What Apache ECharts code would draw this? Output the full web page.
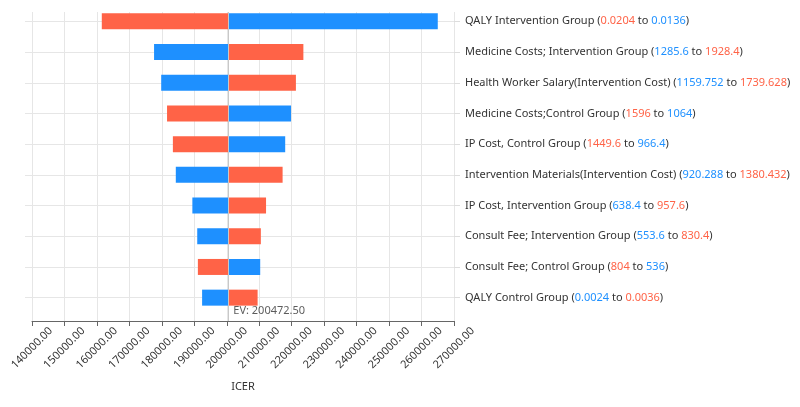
<!DOCTYPE html>
<html>
<head>
<meta charset="utf-8">
<script src="https://cdn.jsdelivr.net/npm/echarts@6/dist/echarts.min.js"></script>
<style>html,body{margin:0;padding:0;background:#fff;}#c{width:800px;height:407px;}</style>
</head>
<body>
<div id="c"></div>
<script>
// ---- data ----
const EV = 200472.5;
const categories = [
  "QALY Intervention Group",
  "Medicine Costs; Intervention Group",
  "Health Worker Salary(Intervention Cost)",
  "Medicine Costs;Control Group",
  "IP Cost, Control Group",
  "Intervention Materials(Intervention Cost)",
  "IP Cost, Intervention Group",
  "Consult Fee; Intervention Group",
  "Consult Fee; Control Group",
  "QALY Control Group"
];
const lowInput  = ["0.0136", "1285.6", "1159.752", "1064", "966.4", "920.288", "638.4", "553.6", "536", "0.0024"];
const highInput = ["0.0204", "1928.4", "1739.628", "1596", "1449.6", "1380.432", "957.6", "830.4", "804", "0.0036"];
const icerAtLow  = [265000, 177600, 179800, 219800, 218000, 184300, 189400, 190900, 210300, 192400];
const icerAtHigh = [161500, 223600, 221300, 181600, 183400, 217200, 212100, 210500, 191100, 209500];
const xTicks = {min: 140000, max: 270000, interval: 10000};

const RED = '#ff6347', BLUE = '#1e90ff';
const FONT = '"Noto Sans", "Open Sans", sans-serif';
const FS = 11;

const leftEnd = categories.map((c, i) => Math.min(icerAtLow[i], icerAtHigh[i]));
const rightEnd = categories.map((c, i) => Math.max(icerAtLow[i], icerAtHigh[i]));
const lowIsLeft = categories.map((c, i) => icerAtLow[i] <= icerAtHigh[i]);

const chart = echarts.init(document.getElementById('c'), null, {renderer: 'canvas'});
const gridPos = {left: 32, right: 346, containLabel: false, outerBoundsMode: 'none'};
chart.setOption({
  animation: false,
  textStyle: {fontFamily: FONT},
  grid: [
    Object.assign({top: 12, bottom: 86}, gridPos),
    Object.assign({top: 6, bottom: 94}, gridPos)
  ],
  xAxis: [
    {
      type: 'value', gridIndex: 0, min: xTicks.min, max: xTicks.max, interval: xTicks.interval,
      name: 'ICER', nameLocation: 'middle', nameGap: 60,
      nameTextStyle: {color: '#333', fontSize: FS, fontFamily: FONT},
      axisLine: {show: true, lineStyle: {color: '#666'}},
      axisTick: {show: true, length: 5, lineStyle: {color: '#666'}},
      axisLabel: {rotate: 45, color: '#333', fontSize: FS, fontFamily: FONT, margin: 27,
        align: 'center', verticalAlign: 'middle',
        formatter: v => v.toFixed(2)},
      splitLine: {show: true, lineStyle: {color: '#e6e6e6'}}
    },
    {
      type: 'value', gridIndex: 1, min: xTicks.min, max: xTicks.max, interval: xTicks.interval, show: false
    }
  ],
  yAxis: [
    {type: 'value', gridIndex: 0, min: 0, max: 1, show: false},
    {
      type: 'category', gridIndex: 1, data: categories, inverse: true, position: 'right',
      axisLine: {show: false},
      axisTick: {show: true, alignWithLabel: true, length: 6, lineStyle: {color: '#ddd'}},
      splitLine: {show: false},
      axisLabel: {
        margin: 11, fontSize: FS, fontFamily: FONT, color: '#333',
        formatter: (v, i) => {
          const a = lowIsLeft[i] ? '{b|' + lowInput[i] + '}' : '{r|' + highInput[i] + '}';
          const b = lowIsLeft[i] ? '{r|' + highInput[i] + '}' : '{b|' + lowInput[i] + '}';
          return '{n|' + v + ' (}' + a + '{n| to }' + b + '{n|)}';
        },
        rich: {
          n: {color: '#333', fontSize: FS, fontFamily: FONT},
          r: {color: RED, fontSize: FS, fontFamily: FONT},
          b: {color: BLUE, fontSize: FS, fontFamily: FONT}
        }
      }
    },
    {
      type: 'category', gridIndex: 1, data: categories, inverse: true, position: 'left',
      axisLine: {show: false},
      axisTick: {show: true, alignWithLabel: true, length: 7, lineStyle: {color: '#e6e6e6'}},
      axisLabel: {show: false},
      splitLine: {show: false}
    }
  ],
  series: [
    {
      type: 'bar', xAxisIndex: 1, yAxisIndex: 1, stack: 't', barWidth: 16, silent: true,
      itemStyle: {color: 'rgba(0,0,0,0)'},
      data: leftEnd,
      markLine: {
        silent: true, symbol: 'none', label: {show: false}, z: 1,
        lineStyle: {color: '#e6e6e6', width: 1, type: 'solid'},
        data: categories.map(c => ({yAxis: c}))
      },
      z: 1
    },
    {
      type: 'bar', xAxisIndex: 1, yAxisIndex: 1, stack: 't', barWidth: 16, silent: true,
      data: categories.map((c, i) => ({
        value: EV - leftEnd[i],
        itemStyle: {color: lowIsLeft[i] ? BLUE : RED}
      })),
      z: 3
    },
    {
      type: 'bar', xAxisIndex: 1, yAxisIndex: 1, stack: 't', barWidth: 16, silent: true,
      data: categories.map((c, i) => ({
        value: rightEnd[i] - EV,
        itemStyle: {color: lowIsLeft[i] ? RED : BLUE}
      })),
      z: 3
    },
    {
      type: 'scatter', xAxisIndex: 0, yAxisIndex: 0, symbolSize: 0, silent: true,
      data: [[EV, 0]],
      label: {show: true, position: 'right', distance: 5, offset: [0, -10],
        color: '#333', fontSize: FS, fontFamily: FONT,
        formatter: () => 'EV: ' + EV.toFixed(2)},
      markLine: {
        silent: true, symbol: 'none', label: {show: false}, z: 5,
        lineStyle: {color: '#c8c8c8', width: 1, type: 'solid'},
        data: [{xAxis: EV}]
      },
      z: 5
    }
  ]
});
</script>
</body>
</html>
